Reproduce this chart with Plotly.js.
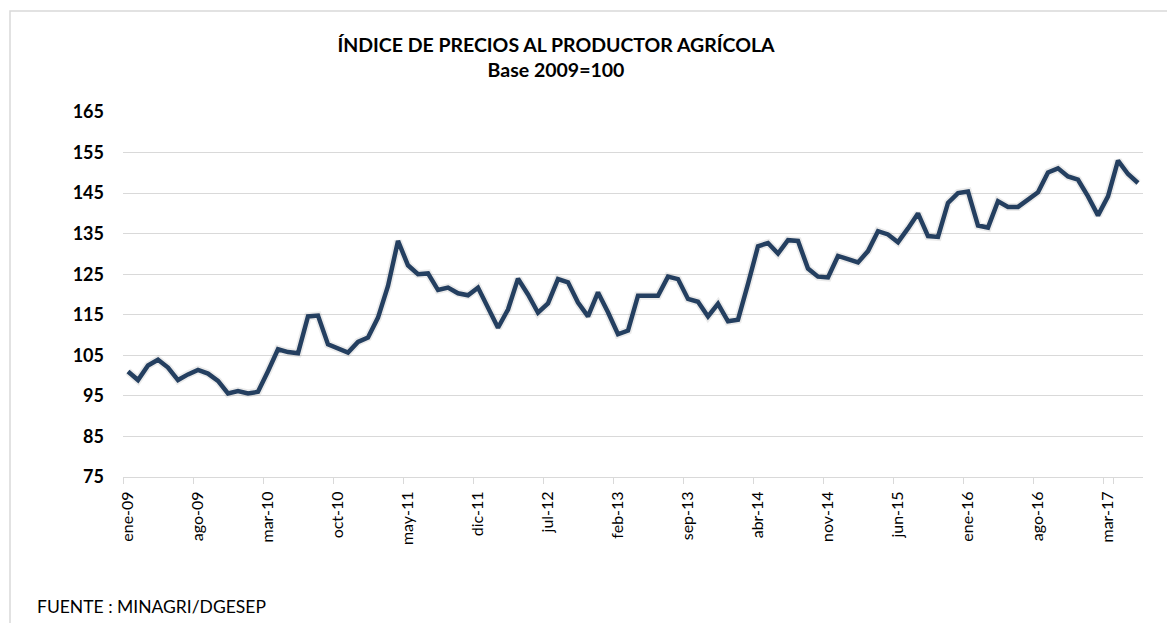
<!DOCTYPE html>
<html>
<head>
<meta charset="utf-8">
<script src="https://cdn.plot.ly/plotly-3.0.1.min.js"></script>
<style>html,body{margin:0;padding:0;background:#fff;}#chart{width:1167px;height:623px;}</style>
</head>
<body>
<div id="chart"></div>
<script>
const monthNames = ["ene","feb","mar","abr","may","jun","jul","ago","sep","oct","nov","dic"];
const startYear = 9; // 2009
const indexValues = [
  101.0, 98.9, 102.5, 103.9, 102.0, 98.9, 100.3, 101.4, 100.5, 98.7, 95.6, 96.2,
  95.6, 96.0, 101.1, 106.5, 105.8, 105.5, 114.6, 114.8, 107.7, 106.6, 105.7, 108.3,
  109.4, 114.3, 122.1, 133.2, 127.2, 125.0, 125.2, 121.1, 121.7, 120.3, 119.8, 121.7,
  116.8, 111.8, 116.3, 123.9, 120.0, 115.5, 117.8, 123.8, 123.0, 118.0, 114.6, 120.5,
  115.6, 110.2, 111.1, 119.7, 119.7, 119.7, 124.4, 123.8, 118.9, 118.2, 114.6, 117.7,
  113.4, 113.8, 122.6, 131.9, 132.7, 130.1, 133.4, 133.2, 126.4, 124.4, 124.2, 129.5,
  128.7, 127.9, 130.7, 135.6, 134.8, 132.9, 136.3, 140.0, 134.4, 134.2, 142.6, 145.0,
  145.4, 137.0, 136.5, 143.0, 141.6, 141.6, 143.4, 145.2, 150.1, 151.1, 149.1, 148.3,
  144.2, 139.5, 144.2, 153.0, 149.7, 147.5
];
const tickLabels = ["ene-09","ago-09","mar-10","oct-10","may-11","dic-11","jul-12","feb-13","sep-13","abr-14","nov-14","jun-15","ene-16","ago-16","mar-17"];
const yTicks = [75,85,95,105,115,125,135,145,155,165];

const categories = indexValues.map((v,i)=>{
  const m = monthNames[i % 12];
  const y = startYear + Math.floor(i / 12);
  return m + "-" + String(y).padStart(2,"0");
});

const font = "Lato, 'Open Sans', sans-serif";
const lineColor = "#243f60";

const traces = [
  {x: categories, y: indexValues, type: "scatter", mode: "lines",
   line: {color: "rgba(0,0,0,0.08)", width: 8, shape: "linear"}, hoverinfo: "skip", showlegend: false},
  {x: categories, y: indexValues, type: "scatter", mode: "lines",
   line: {color: lineColor, width: 4.5, shape: "linear"}, showlegend: false}
];

const L = 123, R = 24, T = 112, B = 146, W = 1167, H = 623;
const pw = W - L - R, ph = H - T - B;
const px = v => (v - L) / pw;
const py = v => (H - B - v) / ph;

const layout = {
  width: W, height: H,
  margin: {l: L, r: R, t: T, b: B},
  paper_bgcolor: "#ffffff", plot_bgcolor: "#ffffff",
  font: {family: font, color: "#000"},
  title: {
    text: "<b>ÍNDICE DE PRECIOS AL PRODUCTOR AGRÍCOLA<br>Base 2009=100</b>",
    font: {family: font, size: 19.5, color: "#000", lineposition: "none"},
    xref: "container", yref: "container",
    x: 556/1167, xanchor: "center",
    y: 1 - 52/623, yanchor: "top"
  },
  xaxis: {
    type: "category",
    categoryorder: "array", categoryarray: categories,
    range: [-0.5, categories.length - 0.5],
    tickmode: "array", tickvals: tickLabels, ticktext: tickLabels,
    tickson: "boundaries",
    ticks: "outside", ticklen: 6, tickcolor: "#d9d9d9", tickwidth: 1,
    tickangle: -90,
    tickfont: {family: font, size: 16, color: "#000"},
    ticklabelstandoff: 7,
    showline: true, linecolor: "#d9d9d9", linewidth: 1,
    showgrid: false, zeroline: false, fixedrange: true
  },
  yaxis: {
    range: [75, 165],
    tickmode: "array", tickvals: yTicks, ticktext: yTicks.map(String),
    tickfont: {family: font, size: 18, color: "#000", weight: "bold"},
    ticks: "", ticklabelstandoff: 18,
    showgrid: true, gridcolor: "#d9d9d9", gridwidth: 1,
    showline: false, zeroline: false, fixedrange: true
  },
  shapes: [
    {type: "rect", xref: "paper", yref: "paper",
     x0: px(10), x1: px(1175), y0: py(640), y1: py(11),
     line: {color: "#d9d9d9", width: 1.5}, fillcolor: "rgba(0,0,0,0)", layer: "below"}
  ],
  annotations: [
    {text: "FUENTE : MINAGRI/DGESEP", xref: "paper", yref: "paper",
     x: px(35), y: py(619), xanchor: "left", yanchor: "bottom", showarrow: false,
     font: {family: font, size: 17.5, color: "#000"}}
  ]
};

Plotly.newPlot("chart", traces, layout, {displayModeBar: false, staticPlot: true});
</script>
</body>
</html>
